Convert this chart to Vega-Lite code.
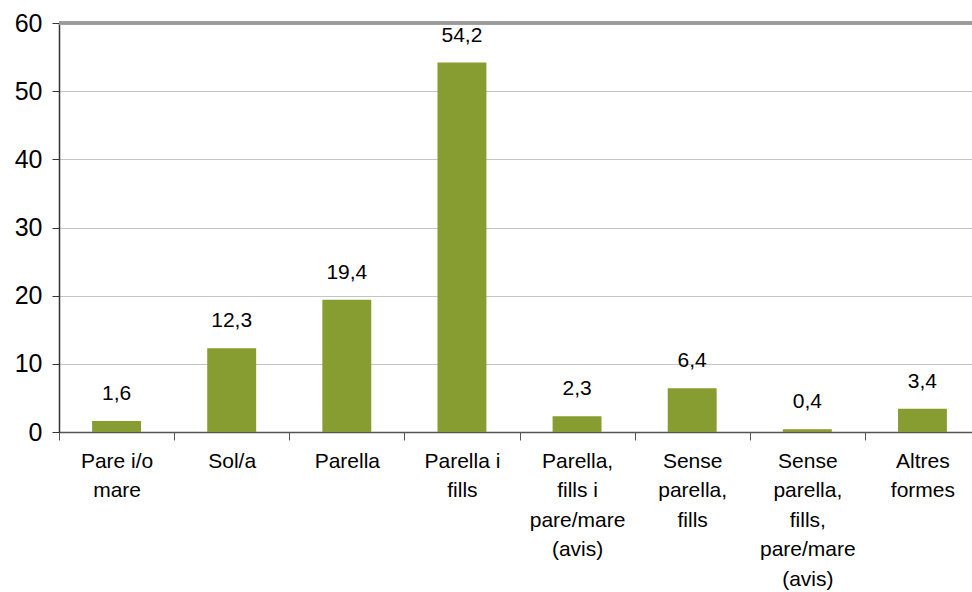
{
  "$schema": "https://vega.github.io/schema/vega-lite/v6.json",
  "autosize": "none",
  "padding": {"left": 59, "top": 23, "right": 0, "bottom": 160},
  "width": 921,
  "height": 409,
  "background": "white",
  "config": {
    "view": {"stroke": null},
    "locale": {"number": {"decimal": ",", "thousands": ".", "grouping": [3], "currency": ["", " €"]}},
    "font": "Liberation Sans"
  },
  "data": {
    "values": [
      {"cat": "Pare i/o|mare", "value": 1.6},
      {"cat": "Sol/a", "value": 12.3},
      {"cat": "Parella", "value": 19.4},
      {"cat": "Parella i|fills", "value": 54.2},
      {"cat": "Parella,|fills i|pare/mare|(avis)", "value": 2.3},
      {"cat": "Sense|parella,|fills", "value": 6.4},
      {"cat": "Sense|parella,|fills,|pare/mare|(avis)", "value": 0.4},
      {"cat": "Altres|formes", "value": 3.4}
    ]
  },
  "encoding": {
    "x": {
      "field": "cat", "type": "nominal", "sort": null,
      "scale": {"paddingInner": 0, "paddingOuter": 0},
      "axis": {
        "title": null, "labelAngle": 0, "labelExpr": "split(datum.label, '|')",
        "labelFont": "Liberation Sans", "labelFontSize": 21, "labelColor": "#000",
        "labelLineHeight": 29.5, "labelPadding": 21, "labelBaseline": "middle",
        "tickBand": "extent", "tickSize": 8, "tickColor": "#555", "domainColor": "#555", "domainWidth": 1.5,
        "labelLimit": 200
      }
    },
    "y": {
      "field": "value", "type": "quantitative",
      "scale": {"domain": [0, 60], "nice": false},
      "axis": {
        "title": null, "values": [0, 10, 20, 30, 40, 50, 60],
        "labelFont": "Liberation Sans", "labelFontSize": 25, "labelColor": "#000", "labelPadding": 10,
        "tickSize": 7, "tickColor": "#333", "domainColor": "#333", "domainWidth": 1.5,
        "grid": true, "gridColor": "#c4c4c4", "gridWidth": 1
      }
    }
  },
  "layer": [
    {"mark": {"type": "bar", "color": "#879d31", "width": {"band": 0.425}}},
    {
      "mark": {"type": "text", "fontSize": 21, "font": "Liberation Sans", "color": "#000", "baseline": "alphabetic", "dy": -21},
      "encoding": {"text": {"field": "value", "type": "quantitative", "format": ".1f"}}
    },
    {
      "mark": {"type": "rule", "color": "#999", "strokeWidth": 2.5},
      "encoding": {"y": {"datum": 60}, "x": null}
    }
  ]
}
